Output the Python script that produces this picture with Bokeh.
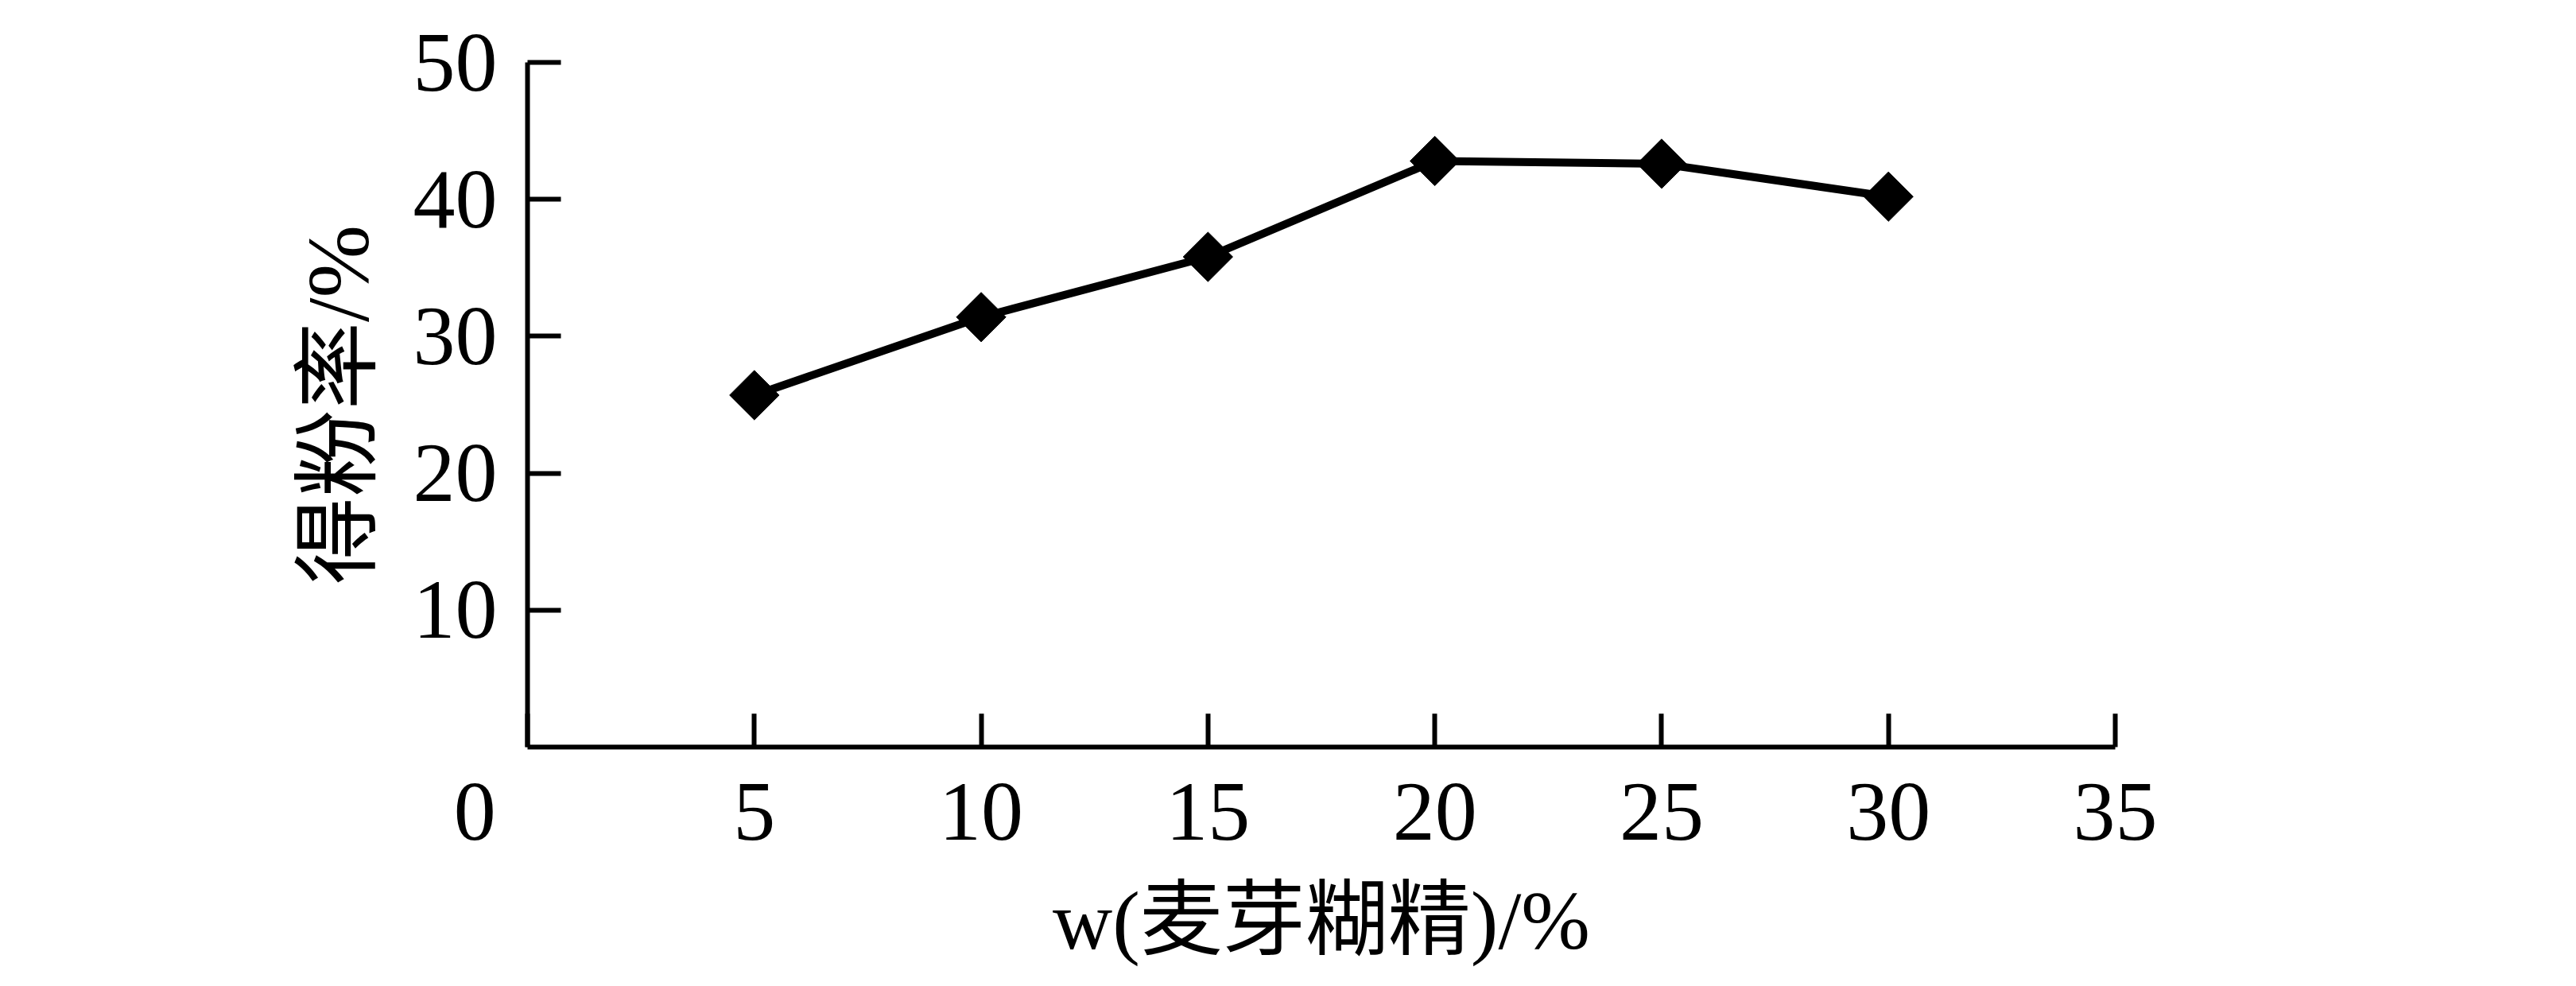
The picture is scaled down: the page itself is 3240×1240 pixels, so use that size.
from bokeh.plotting import figure
from bokeh.models import Range1d, FixedTicker
from bokeh.embed import file_html
from bokeh.resources import INLINE
import math

# w(麦芽糊精)/% vs 得粉率/%
dextrin = [5, 10, 15, 20, 25, 30]
yield_rate = [25.7, 31.4, 35.8, 42.8, 42.6, 40.2]

x_ticks = [0, 5, 10, 15, 20, 25, 30, 35]
y_ticks = [10, 20, 30, 40, 50]

serif = "'Liberation Serif', 'Noto Sans CJK SC'"

p = figure(width=3224, height=1224, output_backend="svg", toolbar_location=None,
           x_range=Range1d(0, 35), y_range=Range1d(0, 50),
           min_border_left=663, min_border_right=564,
           min_border_top=78, min_border_bottom=285)
p.outline_line_color = None
p.xgrid.visible = False
p.ygrid.visible = False

p.line(dextrin, yield_rate, line_color="black", line_width=10)
p.scatter(dextrin, yield_rate, marker="square", angle=math.pi / 4, size=44,
          fill_color="black", line_color="black")

for ax in (p.xaxis[0], p.yaxis[0]):
    ax.axis_line_width = 6
    ax.axis_line_color = "black"
    ax.major_tick_line_width = 6
    ax.major_tick_line_color = "black"
    ax.major_tick_in = 42
    ax.major_tick_out = 0
    ax.minor_tick_line_color = None
    ax.major_label_text_font = serif
    ax.major_label_text_font_size = "106px"
    ax.major_label_text_color = "black"
    ax.axis_label_text_font = serif
    ax.axis_label_text_font_style = "normal"
    ax.axis_label_text_color = "black"

p.xaxis.axis_label_text_font_size = "104px"
p.yaxis.axis_label_text_font_size = "110px"

p.xaxis.ticker = FixedTicker(ticks=x_ticks)
p.yaxis.ticker = FixedTicker(ticks=y_ticks)
# origin "0" sits left of the y axis in the original, pad it with nbsp
p.xaxis.major_label_overrides = {0: "0" + "\u00a0" * 5}
p.xaxis.major_label_standoff = 22
p.yaxis.major_label_standoff = 38
p.xaxis.axis_label = "w(麦芽糊精)/%"
p.yaxis.axis_label = "得粉率/%"
p.xaxis.axis_label_standoff = 18
p.yaxis.axis_label_standoff = 30

open("out.html", "w").write(file_html(p, INLINE))
